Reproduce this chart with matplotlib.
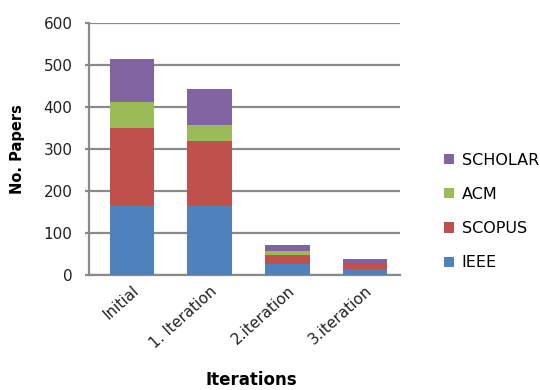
import matplotlib.pyplot as plt
import numpy as np

plt.rcParams['font.family'] = ['DejaVu Sans']

stages = ['Initial', '1. Iteration', '2.iteration', '3.iteration']
ieee = [165, 165, 25, 14]
scopus = [185, 154, 23, 14]
acm = [63, 38, 9, 0]
scholar = [101, 86, 15, 9]

series = [('IEEE', ieee, '#4f81bd'),
          ('SCOPUS', scopus, '#c0504d'),
          ('ACM', acm, '#9bbb59'),
          ('SCHOLAR', scholar, '#8064a2')]

fig = plt.figure(figsize=(5.4, 3.9), dpi=100)
ax = fig.add_axes([0.165, 0.295, 0.576, 0.646])

x = np.arange(len(stages))
bottom = np.zeros(len(stages))
bars = []
for name, vals, col in series:
    b = ax.bar(x, vals, 0.57, bottom=bottom, color=col, label=name, zorder=3)
    bars.append(b)
    bottom += np.array(vals)

ax.set_xlim(-0.55, 3.45)
ax.set_ylim(0, 600)
ax.set_yticks(range(0, 601, 100))
ax.yaxis.grid(True, color='#8a8a8a', linewidth=1.6, zorder=0)
ax.set_axisbelow(True)

for s in ['top', 'right']:
    ax.spines[s].set_visible(False)
for s in ['left', 'bottom']:
    ax.spines[s].set_color('#8a8a8a')
    ax.spines[s].set_linewidth(1.6)

ax.tick_params(axis='y', colors='#8a8a8a', length=3, width=1.6, pad=9,
               labelsize=11, labelcolor='#222222')
ax.tick_params(axis='x', length=0, labelsize=11, pad=6, labelcolor='#222222')
ax.set_xticks(x)
ax.set_xticklabels(stages, rotation=42, ha='right', rotation_mode='anchor')

fig.text(0.033, 0.618, 'No. Papers', rotation=90, ha='center', va='center',
         fontsize=10.5, fontweight='bold')
fig.text(0.466, 0.026, 'Iterations', ha='center', va='center',
         fontsize=12, fontweight='bold')

handles = bars[::-1]
labels = [s[0] for s in series][::-1]
fig.legend(handles, labels, loc='upper left', bbox_to_anchor=(0.796, 0.645),
           frameon=False, fontsize=11.5, handlelength=0.6, handleheight=0.6,
           handletextpad=0.5, labelspacing=1.2)

fig.savefig('out.png', dpi=100)
